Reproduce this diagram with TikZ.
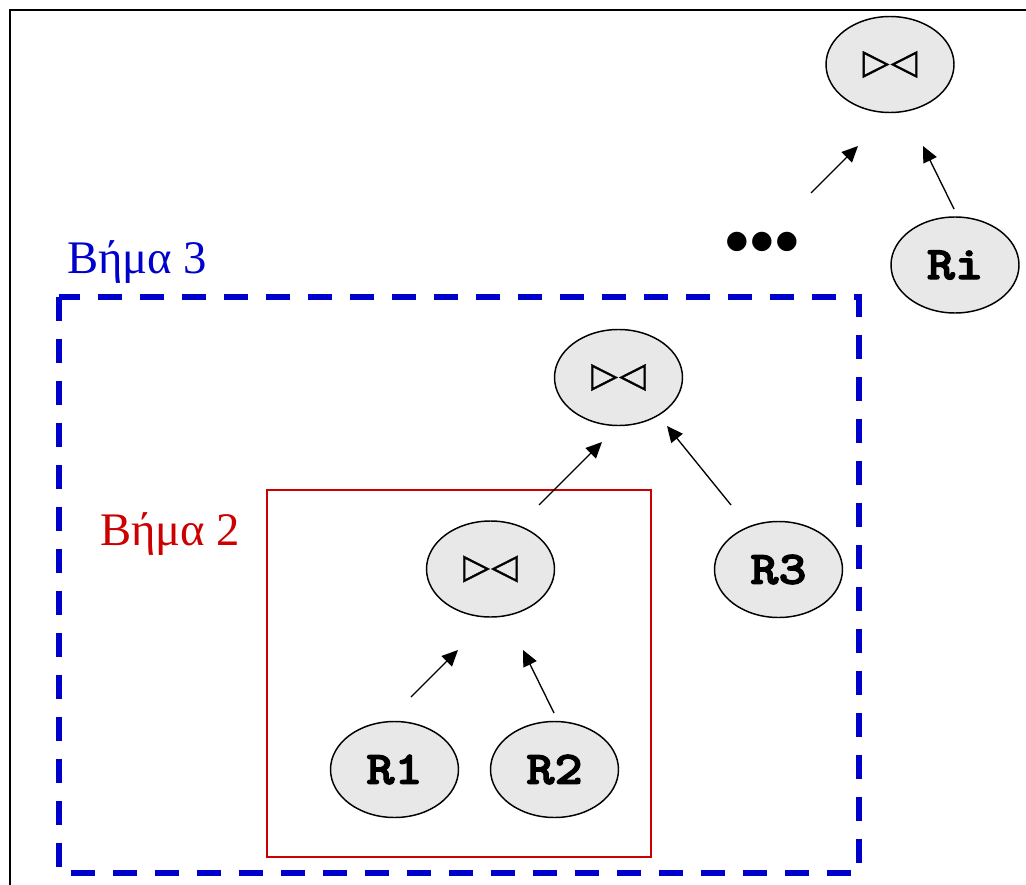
\documentclass[tikz,border=0pt]{standalone}
\usepackage{fontspec}
\setmainfont{Liberation Serif}
\newfontfamily\relfont[FakeBold=2.5,FakeStretch=1.15]{lmmonolt10-bold.otf}
\newfontfamily\symfont{DejaVu Sans}
\newfontfamily\joinfont[FakeBold=1.2]{DejaVu Sans}
\usetikzlibrary{shapes.geometric,arrows.meta}
\definecolor{stepblue}{HTML}{0000CC}
\definecolor{stepred}{HTML}{CC0000}
\definecolor{opfill}{HTML}{E8E8E8}
\tikzset{
  op/.style={ellipse, draw=black, line width=1.1pt, fill=opfill,
    minimum width=96pt, minimum height=72pt, inner sep=0pt},
  rel/.style={op, font=\fontsize{35}{35}\selectfont\relfont},
  joinop/.style={op, font=\fontsize{26}{26}\selectfont\joinfont},
  feed/.style={line width=1pt, -{Triangle[length=12pt,width=11pt]}},
  steplabel/.style={anchor=base west, inner sep=0pt,
    font=\fontsize{35}{35}\selectfont},
}
\newcommand{\joinsym}{▷\kern1pt◁}
\begin{document}
\begin{tikzpicture}[x=0.75pt,y=-0.75pt]
\useasboundingbox (0,0) rectangle (1026,885);
% outer frame (runs past the right and bottom edges)
\draw[line width=1.5pt] (10,1100) -- (10,10) -- (1200,10);

% step boxes
\draw[stepblue, line width=4.5pt, dash pattern=on 18pt off 13.5pt]
  (59,297) rectangle (858.5,873);
\draw[stepred, line width=1.3pt] (267,490) rectangle (651,857);

\node[steplabel, text=stepblue] (s3) at (67,273) {Βήμα 3};
\node[steplabel, text=stepred] (s2) at (100,545) {Βήμα 2};

% operator tree
\node[joinop] (j3) at (890,64.5) {\joinsym};
\node[rel] (ri) at (955,265) {Ri};
\node[joinop] (j2) at (618.5,377.5) {\joinsym};
\node[rel] (r3) at (778.5,569.5) {R3};
\node[joinop] (j1) at (490.5,569) {\joinsym};
\node[rel] (r1) at (394.5,769.5) {R1};
\node[rel] (r2) at (554.5,769.5) {R2};

\node[inner sep=0pt, font=\fontsize{19}{19}\selectfont\symfont] (dots) at (762,242)
  {●\kern2.2pt●\kern2.2pt●};

% arrow ends (the arrows float between the nodes)
\coordinate (a1s) at (411,697);  \coordinate (a1e) at (458,650);
\coordinate (a2s) at (554,713);  \coordinate (a2e) at (523,650);
\coordinate (a3s) at (539,505);  \coordinate (a3e) at (602,442);
\coordinate (a4s) at (731,505);  \coordinate (a4e) at (667,426);
\coordinate (a5s) at (811,193);  \coordinate (a5e) at (858,146);
\coordinate (a6s) at (954,209);  \coordinate (a6e) at (923,146);

\draw[feed] (a1s) -- (a1e);
\draw[feed] (a2s) -- (a2e);
\draw[feed] (a3s) -- (a3e);
\draw[feed] (a4s) -- (a4e);
\draw[feed] (a5s) -- (a5e);
\draw[feed] (a6s) -- (a6e);
\end{tikzpicture}
\end{document}
